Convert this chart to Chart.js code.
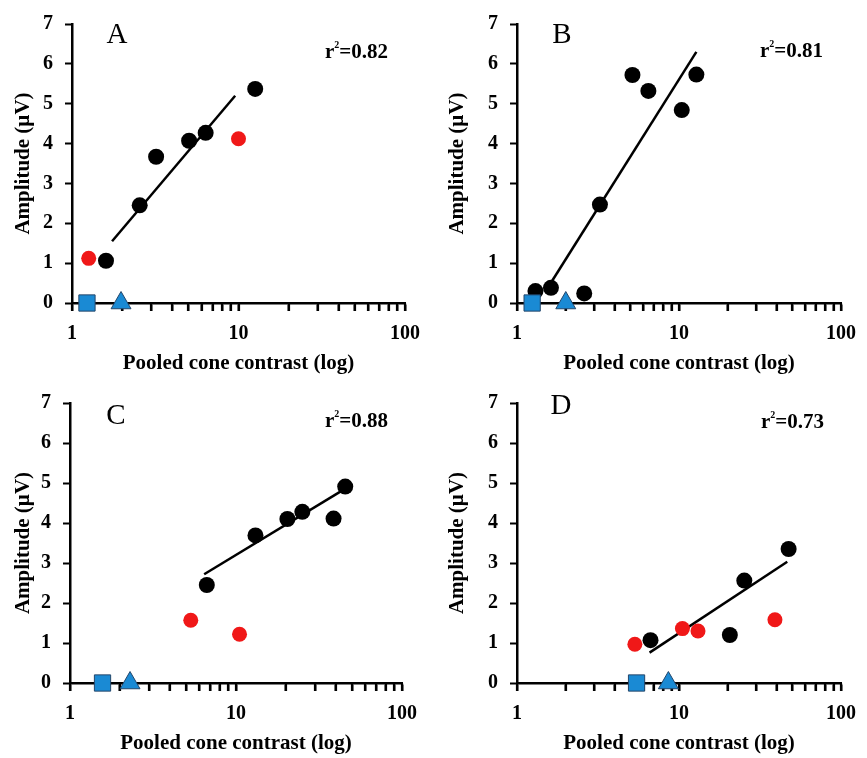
<!DOCTYPE html>
<html>
<head>
<meta charset="utf-8">
<script src="https://cdn.jsdelivr.net/npm/chart.js@4.4.0/dist/chart.umd.min.js"></script>
<style>
  html, body { margin: 0; padding: 0; background: #fff; }
  .panel { position: absolute; }
</style>
</head>
<body>
<div class="panel" style="left:0;top:0"><canvas id="panelA" width="434" height="379"></canvas></div>
<div class="panel" style="left:434px;top:0"><canvas id="panelB" width="433" height="379"></canvas></div>
<div class="panel" style="left:0;top:379px"><canvas id="panelC" width="434" height="379"></canvas></div>
<div class="panel" style="left:434px;top:379px"><canvas id="panelD" width="433" height="379"></canvas></div>
<script>
// Panel A
const blackA_x = [1.6, 2.55, 3.2, 5.05, 6.35, 12.6];
const blackA_y = [1.06, 2.45, 3.67, 4.07, 4.27, 5.37];
const redA_x = [1.26, 10.0];
const redA_y = [1.12, 4.12];
const squareA_x = [1.23];
const triangleA_x = [1.97];
const fitA_x = [1.74, 9.55];
const fitA_y = [1.55, 5.2];

// Panel B
const blackB_x = [1.3, 1.62, 2.6, 3.25, 5.16, 6.47, 10.4, 12.8];
const blackB_y = [0.3, 0.38, 0.24, 2.47, 5.72, 5.32, 4.84, 5.73];
const redB_x = [];
const redB_y = [];
const squareB_x = [1.24];
const triangleB_x = [2.0];
const fitB_x = [1.57, 12.8];
const fitB_y = [0.42, 6.3];

// Panel C
const blackC_x = [6.67, 13.1, 20.4, 25.1, 38.7, 45.5];
const blackC_y = [2.45, 3.69, 4.1, 4.28, 4.11, 4.91];
const redC_x = [5.34, 10.5];
const redC_y = [1.57, 1.22];
const squareC_x = [1.57];
const triangleC_x = [2.3];
const fitC_x = [6.43, 43.5];
const fitC_y = [2.72, 4.81];

// Panel D
const blackD_x = [6.67, 20.6, 25.3, 47.5];
const blackD_y = [1.07, 1.2, 2.56, 3.35];
const redD_x = [5.34, 10.5, 13.1, 39.1];
const redD_y = [0.97, 1.36, 1.3, 1.58];
const squareD_x = [5.47];
const triangleD_x = [8.6];
const fitD_x = [6.58, 46.6];
const fitD_y = [0.76, 3.03];

const panelLetters = ['A', 'B', 'C', 'D'];
const rSquared = ['0.82', '0.81', '0.88', '0.73'];
const xTickLabels = [1, 10, 100];
const xTickMarks = [1, 2, 3, 4, 5, 6, 7, 8, 9, 10, 20, 30, 40, 50, 60, 70, 80, 90, 100];
const yTickMax = 7;
const xTitle = 'Pooled cone contrast (log)';
const yTitle = 'Amplitude (\u00b5V)';

const FONT = '"Liberation Serif", "Times New Roman", serif';
const BLUE = '#1a8ad4';
const RED = '#f01818';

// log-axis tick marks under the x axis, placed with the x scale
const logTicks = {
    id: 'logTicks',
    beforeDatasetsDraw(chart) {
        const c = chart.ctx;
        const xs = chart.scales.x;
        const y0 = chart.chartArea.bottom;
        c.save();
        c.strokeStyle = '#000';
        c.lineWidth = 2.2;
        xTickMarks.forEach(v => {
            const px = Math.round(xs.getPixelForValue(v));
            c.beginPath();
            c.moveTo(px, y0);
            c.lineTo(px, y0 + 8);
            c.stroke();
        });
        c.restore();
    }
};

const panelText = {
    id: 'panelText',
    afterDraw(chart, args, opts) {
        const c = chart.ctx;
        const a = chart.chartArea;
        c.save();
        c.fillStyle = '#000';
        c.textBaseline = 'middle';
        c.textAlign = 'center';
        c.font = '29px ' + FONT;
        c.fillText(opts.letter, a.left + opts.letterDx, a.top + opts.letterDy);

        // r² label, right aligned
        const big = 'bold 21px ' + FONT;
        const small = 'bold 10px ' + FONT;
        c.textAlign = 'left';
        c.font = big;
        const wr = c.measureText('r').width;
        const wv = c.measureText('=' + opts.r2).width;
        c.font = small;
        const w2 = c.measureText('2').width;
        let x = a.right - opts.r2Dx - (wr + w2 + wv);
        const y = a.top + opts.r2Dy;
        c.font = big;
        c.fillText('r', x, y);
        x += wr;
        c.font = small;
        c.fillText('2', x, y - 8);
        x += w2;
        c.font = big;
        c.fillText('=' + opts.r2, x, y);
        c.restore();
    }
};

function toPoints(xs, ys) {
    return xs.map((x, i) => ({ x: x, y: ys[i] }));
}

function onAxis(xs) {
    return xs.map(x => ({ x: x, y: 0 }));
}

function buildPanel(id, d, g) {
    const canvas = document.getElementById(id);
    const W = canvas.width;
    const H = canvas.height;
    const xAxisHeight = 73;

    new Chart(canvas.getContext('2d'), {
        type: 'scatter',
        data: {
            datasets: [
                { data: toPoints(d.fitX, d.fitY), showLine: true, borderColor: '#000', borderWidth: 2.5, pointRadius: 0, order: 5, clip: false },
                { data: toPoints(d.redX, d.redY), pointRadius: 7.5, backgroundColor: RED, borderWidth: 0, order: 4, clip: false },
                { data: toPoints(d.blackX, d.blackY), pointRadius: 8, backgroundColor: '#000', borderWidth: 0, order: 3, clip: false },
                { data: onAxis(d.squareX), pointStyle: 'rect', pointRadius: 11.5, backgroundColor: BLUE, borderColor: '#24466a', borderWidth: 1, order: 2, clip: false },
                { data: onAxis(d.triangleX), pointStyle: 'triangle', pointRadius: 11.5, backgroundColor: BLUE, borderColor: '#24466a', borderWidth: 1, order: 1, clip: false }
            ]
        },
        options: {
            responsive: false,
            animation: false,
            events: [],
            layout: { padding: { left: 0, top: g.top, right: W - g.right, bottom: H - g.bottom - xAxisHeight } },
            plugins: {
                legend: { display: false },
                tooltip: { enabled: false },
                panelText: g.text
            },
            scales: {
                x: {
                    type: 'logarithmic',
                    min: 1,
                    max: 100,
                    afterBuildTicks: s => { s.ticks = xTickMarks.map(v => ({ value: v })); },
                    afterFit: s => { s.height = xAxisHeight; },
                    border: { display: true, color: '#000', width: 2.5 },
                    grid: { drawOnChartArea: false, drawTicks: true, tickLength: 8, tickWidth: 2, color: '#000' },
                    ticks: {
                        autoSkip: false,
                        maxRotation: 0,
                        padding: 11,
                        color: '#000',
                        font: { family: FONT, size: 20, weight: 'bold' },
                        callback: v => xTickLabels.includes(v) ? String(v) : ''
                    },
                    title: {
                        display: true,
                        text: xTitle,
                        color: '#000',
                        font: { family: FONT, size: 21, weight: 'bold' },
                        padding: { top: 0, bottom: 0 }
                    }
                },
                y: {
                    min: 0,
                    max: yTickMax,
                    afterFit: s => { s.width = g.left; },
                    border: { display: true, color: '#000', width: 2.5 },
                    grid: { drawOnChartArea: false, drawTicks: true, tickLength: 7, tickWidth: 2, color: '#000' },
                    ticks: {
                        stepSize: 1,
                        padding: 12,
                        color: '#000',
                        font: { family: FONT, size: 20, weight: 'bold' }
                    },
                    title: {
                        display: true,
                        text: yTitle,
                        color: '#000',
                        font: { family: FONT, size: 21, weight: 'bold' },
                        padding: { top: 11, bottom: 0 }
                    }
                }
            }
        },
        plugins: [logTicks, panelText]
    });
}

buildPanel('panelA',
    { blackX: blackA_x, blackY: blackA_y, redX: redA_x, redY: redA_y, squareX: squareA_x, triangleX: triangleA_x, fitX: fitA_x, fitY: fitA_y },
    { left: 72, right: 405, top: 17, bottom: 303,
      text: { letter: panelLetters[0], r2: rSquared[0], letterDx: 45, letterDy: 11, r2Dx: 17, r2Dy: 29 } });

buildPanel('panelB',
    { blackX: blackB_x, blackY: blackB_y, redX: redB_x, redY: redB_y, squareX: squareB_x, triangleX: triangleB_x, fitX: fitB_x, fitY: fitB_y },
    { left: 83, right: 415, top: 17, bottom: 303,
      text: { letter: panelLetters[1], r2: rSquared[1], letterDx: 45, letterDy: 11, r2Dx: 18, r2Dy: 28 } });

buildPanel('panelC',
    { blackX: blackC_x, blackY: blackC_y, redX: redC_x, redY: redC_y, squareX: squareC_x, triangleX: triangleC_x, fitX: fitC_x, fitY: fitC_y },
    { left: 70, right: 402, top: 19, bottom: 304,
      text: { letter: panelLetters[2], r2: rSquared[2], letterDx: 46, letterDy: 13, r2Dx: 14, r2Dy: 19 } });

buildPanel('panelD',
    { blackX: blackD_x, blackY: blackD_y, redX: redD_x, redY: redD_y, squareX: squareD_x, triangleX: triangleD_x, fitX: fitD_x, fitY: fitD_y },
    { left: 83, right: 414, top: 17, bottom: 304,
      text: { letter: panelLetters[3], r2: rSquared[3], letterDx: 44, letterDy: 3, r2Dx: 17, r2Dy: 20 } });
</script>
</body>
</html>
